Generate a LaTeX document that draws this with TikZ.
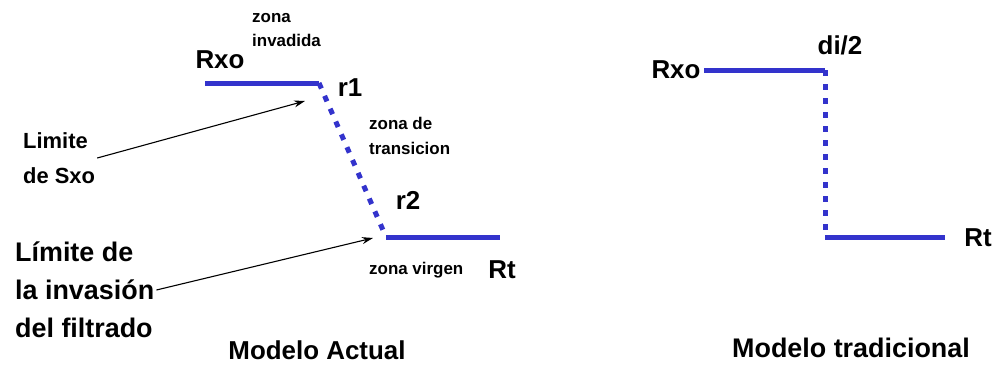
\documentclass[tikz,border=0pt]{standalone}
\usepackage{fontspec}
\setmainfont{Liberation Sans}
\usetikzlibrary{arrows.meta}
\definecolor{perfil}{RGB}{51,51,204}
\begin{document}
\begin{tikzpicture}[x=1bp,y=-1bp,
lbl/.style={font=\bfseries\fontsize{26}{28}\selectfont,text=black,inner sep=1pt},
zona/.style={font=\bfseries\fontsize{17}{25}\selectfont,text=black,align=left,anchor=west,inner sep=1pt},
nota/.style={font=\bfseries\fontsize{22}{35}\selectfont,text=black,align=left,anchor=west,inner sep=2pt},
titulo/.style={font=\bfseries\fontsize{26}{30}\selectfont,text=black},
solido/.style={draw=perfil,line width=5bp},
punteado/.style={draw=perfil,line width=5bp,dash pattern=on 6bp off 8bp},
ptr/.style={draw=black,line width=1.1bp,-{Stealth[length=11bp,width=7bp]}}
]
\useasboundingbox (0,0) rectangle (1002,368);
% modelo actual
\coordinate (a1) at (205,83);
\coordinate (a2) at (319,83);
\coordinate (a3) at (386,237);
\coordinate (a4) at (500,237);
\draw[solido] (a1) -- (a2);
\draw[punteado] (a2) -- (a3);
\draw[solido] (a3) -- (a4);
\node[lbl] (rxoA) at (220,60) {Rxo};
\node[zona] (zinv) at (251,30) {zona\\invadida};
\node[lbl] (r1) at (350,88) {r1};
\node[zona] (ztrans) at (368,136) {zona de\\transicion};
\node[lbl] (r2) at (408,200) {r2};
\node[zona] (zvir) at (368,270) {zona virgen};
\node[lbl] (rtA) at (502,270) {Rt};
\node[nota] (limsxo) at (21,158) {Limite\\de Sxo};
\node[nota,font=\bfseries\fontsize{27}{38}\selectfont] (liminv) at (13,290) {Límite de\\la invasión\\del filtrado};
\coordinate (tipA) at (305,101);
\coordinate (tipB) at (373,238);
\draw[ptr] (limsxo.east) -- (tipA);
\draw[ptr] (liminv.east) -- (tipB);
\node[titulo] (modact) at (317,350) {Modelo Actual};
% modelo tradicional
\coordinate (b1) at (704,70);
\coordinate (b2) at (825,70);
\coordinate (b3) at (825,237);
\coordinate (b4) at (945,237);
\draw[solido] (b1) -- (b2);
\draw[punteado] (b2) -- (b3);
\draw[solido] (b3) -- (b4);
\node[lbl] (rxoB) at (676,70) {Rxo};
\node[lbl] (di2) at (840,45) {di/2};
\node[lbl] (rtB) at (978,238) {Rt};
\node[titulo,font=\bfseries\fontsize{27}{30}\selectfont] (modtrad) at (851,348) {Modelo tradicional};
\end{tikzpicture}
\end{document}
